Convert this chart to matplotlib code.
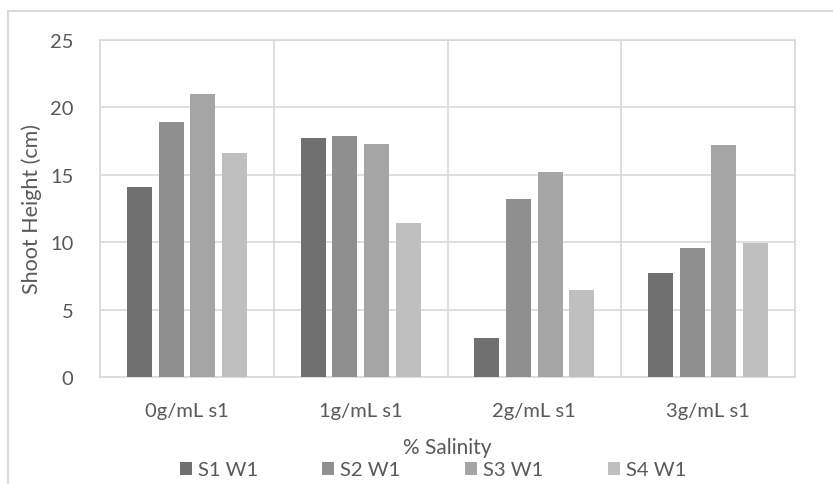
import matplotlib.pyplot as plt
import matplotlib.patches as patches
import numpy as np

plt.rcParams['font.family'] = ['Lato', 'DejaVu Sans']

categories = ['0g/mL s1', '1g/mL s1', '2g/mL s1', '3g/mL s1']
series = ['S1 W1', 'S2 W1', 'S3 W1', 'S4 W1']
s1 = [14.1, 17.75, 2.9, 7.75]
s2 = [18.95, 17.9, 13.2, 9.55]
s3 = [21.0, 17.3, 15.2, 17.2]
s4 = [16.65, 11.45, 6.45, 9.95]
colors = ['#707070', '#8f8f8f', '#a5a5a5', '#bfbfbf']

text_col = '#595959'
grid_col = '#d9d9d9'

fig = plt.figure(figsize=(8.33, 4.85), dpi=100)
ax = fig.add_axes([100 / 833, 107 / 485, 695 / 833, 337 / 485])

x = np.arange(len(categories))
width = 0.144
step = 0.182
for i, (vals, name) in enumerate(zip([s1, s2, s3, s4], series)):
    ax.bar(x + (i - 1.5) * step, vals, width, color=colors[i], label=name, zorder=3)

ax.set_xlim(-0.5, 3.5)
ax.set_ylim(0, 25)
ax.set_yticks(range(0, 26, 5))
ax.set_xticks(x)
ax.set_xticklabels(categories)
ax.set_xticks(np.arange(-0.5, 3.6, 1), minor=True)
ax.grid(True, axis='y', color=grid_col, linewidth=1.2, zorder=0)
ax.grid(True, axis='x', which='minor', color=grid_col, linewidth=1.2, zorder=0)
ax.tick_params(axis='both', which='both', length=0, labelsize=14.5, colors=text_col)
ax.tick_params(axis='x', pad=18)
ax.tick_params(axis='y', pad=19)
for sp in ax.spines.values():
    sp.set_color(grid_col)
    sp.set_linewidth(1.2)

ax.set_ylabel('Shoot Height (cm)', fontsize=15.5, color=text_col, labelpad=6)
ax.set_xlabel('% Salinity', fontsize=15, color=text_col, labelpad=13)

fig.legend(loc='center', bbox_to_anchor=(433 / 833, 1 - 471 / 485), ncol=4, frameon=False,
           fontsize=14.5, labelcolor=text_col, handlelength=0.6, handleheight=0.6,
           handletextpad=0.3, columnspacing=3.2)

fig.add_artist(patches.Rectangle((8 / 833, -0.1), 1.2, 1.1 - 12 / 485, fill=False,
                                 edgecolor=grid_col, linewidth=1.5, transform=fig.transFigure))

fig.savefig('out.png', dpi=100)
